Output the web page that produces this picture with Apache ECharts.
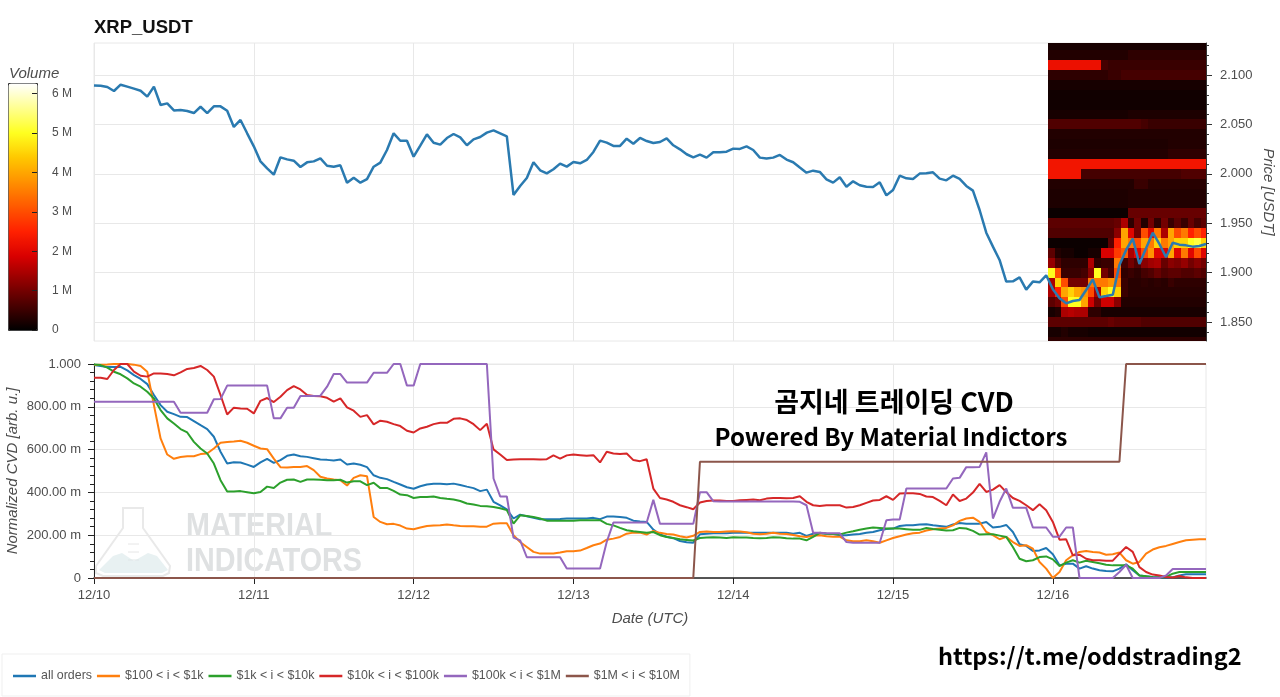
<!DOCTYPE html>
<html style="height: 100%">
<head>
<meta charset="utf-8">
<script src="https://cdn.jsdelivr.net/npm/echarts@6/dist/echarts.min.js"></script>
</head>
<body style="height: 100%; margin: 0; background: #fff">
<div id="container" style="width: 1280px; height: 697px"></div>
<script>
// hourly samples, one row per day, hour 0 = 12/10 00:00 UTC
var dayLabels = ['12/10', '12/11', '12/12', '12/13', '12/14', '12/15', '12/16'];
var dayTicks = [0, 24, 48, 72, 96, 120, 144];

var price = [
  2.0895,2.0892,2.0879,2.0838,2.0902,2.0882,2.0862,2.0841,2.0781,2.0882,2.0696,2.0713,2.0642,2.0646,2.0636,2.0615,2.0679,2.0615,2.0683,2.0683,2.0639,2.0474,2.0545,2.0410,
  2.0278,2.0126,2.0055,1.9991,2.0167,2.0146,2.0133,2.0069,2.0116,2.0126,2.0157,2.0082,2.0072,2.0086,1.9910,1.9961,1.9910,1.9947,2.0072,2.0113,2.0241,2.0410,2.0335,2.0335,
  2.0173,2.0285,2.0399,2.0315,2.0295,2.0362,2.0403,2.0369,2.0289,2.0349,2.0373,2.0417,2.0440,2.0410,2.0380,1.9786,1.9877,1.9958,2.0117,2.0036,2.0005,2.0046,2.0103,2.0073,
  2.0120,2.0106,2.0140,2.0221,2.0336,2.0316,2.0282,2.0282,2.0356,2.0305,2.0363,2.0332,2.0312,2.0322,2.0359,2.0289,2.0248,2.0198,2.0167,2.0194,2.0164,2.0218,2.0218,2.0224,
  2.0255,2.0252,2.0278,2.0241,2.0164,2.0154,2.0164,2.0191,2.0144,2.0117,2.0063,2.0012,2.0032,2.0019,1.9944,1.9911,1.9965,1.9870,1.9924,1.9884,1.9870,1.9867,1.9914,1.9782,
  1.9836,1.9981,1.9954,1.9948,2.0002,2.0005,2.0015,1.9951,1.9934,1.9981,1.9948,1.9877,1.9830,1.9634,1.9404,1.9263,1.9128,1.8909,1.8912,1.8952,1.8828,1.8909,1.8902,1.8973,
  1.8831,1.8740,1.8689,1.8713,1.8723,1.8824,1.8932,1.8750,1.8763,1.8777,1.9077,1.9229,1.9344,1.9087,1.9246,1.9404,1.9290,1.9155,1.9303,1.9283,1.9276,1.9263,1.9269,1.9290
];

// normalized CVD, in thousandths
var cvdAll = [
  995,991,986,986,987,970,948,930,906,855,808,777,766,753,752,733,714,696,660,590,535,541,540,530,
  519,540,557,538,551,571,577,569,566,560,554,552,549,554,530,535,529,518,480,468,462,449,437,424,
  417,429,437,440,440,438,441,435,427,420,406,413,356,339,321,278,296,289,282,275,275,275,276,278,
  278,278,278,281,275,287,287,285,281,268,264,262,226,203,193,186,173,167,165,204,207,209,209,209,
  211,211,212,212,211,211,212,211,211,207,211,197,207,209,207,206,200,200,203,206,211,215,223,229,
  231,243,246,246,250,251,246,243,239,250,257,254,254,254,262,236,239,248,215,158,150,126,129,140,
  111,59,67,67,44,55,44,36,33,31,44,64,36,12,8,5,3,2,3,12,17,17,17,17
];
var cvd100 = [
  995,997,998,1000,1000,1000,997,991,964,808,652,577,557,565,569,569,579,582,605,632,636,638,641,632,
  618,605,602,558,518,516,519,519,523,504,473,465,460,457,432,468,480,476,285,262,251,253,245,231,
  228,236,243,245,246,250,246,243,242,242,240,240,254,256,256,200,168,145,122,114,114,115,119,125,
  125,128,140,153,161,179,184,192,207,212,212,203,220,211,206,203,195,189,197,215,217,215,215,217,
  218,217,214,207,204,207,211,207,206,201,195,192,198,200,195,193,193,176,172,172,176,172,165,176,
  187,195,203,209,212,222,228,231,234,246,267,278,282,262,215,200,181,192,168,150,153,137,75,44,
  0,28,83,106,122,126,122,119,109,111,119,83,67,75,114,133,144,150,159,168,176,179,181,181
];
var cvd1k = [
  998,995,983,964,952,933,909,894,870,839,785,746,722,696,680,636,605,582,535,457,404,404,406,401,
  396,402,427,421,446,459,460,449,460,460,459,457,457,459,446,452,452,434,445,420,421,407,390,387,
  374,378,379,381,374,370,367,360,348,343,337,335,332,326,317,254,293,290,285,278,268,268,268,268,
  268,270,270,270,270,253,246,234,223,218,215,211,215,200,192,187,181,178,175,187,189,190,189,187,
  190,189,189,187,186,187,190,189,186,184,184,176,192,211,207,206,204,212,218,225,231,236,234,231,
  231,231,228,225,225,234,229,226,222,223,234,231,220,203,204,204,198,192,145,90,78,83,98,101,
  87,56,72,83,72,81,75,69,62,59,59,59,44,12,8,3,2,5,20,28,28,28,28,28
];
var cvd10k = [
  936,936,930,972,1000,1000,964,945,941,956,956,953,947,961,977,981,991,972,941,855,764,796,792,791,
  769,828,841,822,847,878,897,881,855,850,849,842,824,839,797,782,753,761,718,735,730,719,710,688,
  680,699,707,719,725,725,744,746,738,719,691,721,601,577,551,554,555,555,555,554,555,573,558,573,
  577,574,571,574,540,590,582,579,582,551,546,555,418,374,367,356,340,331,321,353,360,362,362,360,
  360,363,365,367,363,371,374,374,373,374,382,356,340,337,340,340,340,329,332,340,351,362,365,382,
  365,395,396,396,393,381,378,360,340,390,360,371,399,440,402,413,434,402,374,360,340,317,345,317,
  262,179,181,106,109,90,83,83,81,81,114,145,122,51,28,16,12,5,2,9,3,0,0,0
];
var cvd100k = [
  824,824,824,824,824,824,824,824,824,824,824,824,824,772,772,772,772,772,835,836,899,899,899,899,
  899,899,899,746,746,796,796,850,850,850,852,894,953,953,913,913,913,913,959,959,959,1000,1000,899,
  899,1000,1000,1000,1000,1000,1000,1000,1000,1000,1000,1000,465,381,381,189,176,97,97,97,97,97,97,44,
  44,44,44,44,44,168,259,259,259,259,259,259,365,253,253,253,253,253,253,401,401,359,357,357,
  357,357,357,357,357,357,357,357,357,357,356,340,211,212,209,209,209,168,165,165,165,165,165,270,
  273,273,418,418,418,418,418,418,418,465,468,518,518,519,587,278,356,418,328,328,328,236,236,236,
  193,193,236,236,0,0,0,0,0,0,28,62,0,0,0,0,0,12,42,42,42,42,42,42
];
var cvd1m = [
  0,0,0,0,0,0,0,0,0,0,0,0,0,0,0,0,0,0,0,0,0,0,0,0,
  0,0,0,0,0,0,0,0,0,0,0,0,0,0,0,0,0,0,0,0,0,0,0,0,
  0,0,0,0,0,0,0,0,0,0,0,0,0,0,0,0,0,0,0,0,0,0,0,0,
  0,0,0,0,0,0,0,0,0,0,0,0,0,0,0,0,0,0,0,543,543,543,543,543,
  543,543,543,543,543,543,543,543,543,543,543,543,543,543,543,543,543,543,543,543,543,543,543,543,
  543,543,543,543,543,543,543,543,543,543,543,543,543,543,543,543,543,543,543,543,543,543,543,543,
  543,543,543,543,543,543,543,543,543,543,543,1000,1000,1000,1000,1000,1000,1000,1000,1000,1000,1000,1000,1000
];
var seriesNames = ['all orders', '$100 < i < $1k', '$1k < i < $10k', '$10k < i < $100k', '$100k < i < $1M', '$1M < i < $10M'];
var seriesColors = ['#1f77b4', '#ff7f0e', '#2ca02c', '#d62728', '#9467bd', '#8c564b'];

// order book volume in millions, rows by price level, columns by hour from hour 144
var heatHours = [144,145,146,147,148,149,150,151,152,153,154,155,156,157,158,159,160,161,162,163,164,165,166,167];
var heatPrices = [2.13,2.12,2.11,2.10,2.09,2.08,2.07,2.06,2.05,2.04,2.03,2.02,2.01,2.00,1.99,1.98,1.97,1.96,1.95,1.94,1.93,1.92,1.91,1.90,1.89,1.88,1.87,1.86,1.85,1.84,1.83];
var heatRows = [
  [.2,.2,.2,.2,.2,.2,.2,.2,.2,.2,.2,.2,.2,.2,.2,.2,.2,.2,.2,.2,.2,.2,.2,.2],
  [.3,.3,.3,.3,.3,.3,.3,.3,.3,.3,.3,.3,.4,.4,.4,.4,.4,.4,.4,.4,.4,.4,.4,.4],
  [2.2,2.2,2.2,2.2,2.2,2.2,2.2,2.2,.6,.5,.5,.5,.5,.5,.5,.5,.5,.5,.5,.5,.5,.5,.5,.5],
  [.4,.4,.4,.4,.4,.4,.4,.4,.4,.5,.5,.6,.6,.6,.6,.6,.6,.6,.6,.6,.6,.6,.6,.6],
  [.2,.2,.2,.2,.2,.2,.2,.2,.2,.2,.2,.2,.2,.2,.2,.2,.2,.2,.2,.2,.2,.2,.2,.2],
  [.15,.15,.15,.15,.15,.15,.15,.15,.15,.15,.15,.15,.15,.15,.15,.15,.15,.15,.15,.15,.15,.15,.15,.15],
  [.15,.15,.15,.15,.15,.15,.15,.15,.15,.15,.15,.15,.15,.15,.15,.15,.15,.15,.15,.15,.15,.15,.15,.15],
  [.2,.2,.2,.2,.2,.2,.2,.2,.2,.2,.2,.2,.25,.25,.25,.25,.25,.25,.25,.25,.25,.25,.25,.25],
  [.7,.7,.7,.7,.7,.7,.7,.7,.7,.7,.7,.7,.7,.7,.6,.5,.5,.5,.5,.5,.5,.5,.5,.5],
  [.3,.3,.3,.3,.3,.3,.3,.3,.3,.3,.3,.3,.3,.3,.3,.3,.3,.3,.3,.3,.3,.3,.3,.3],
  [.25,.25,.25,.25,.25,.25,.25,.25,.25,.25,.25,.25,.25,.25,.25,.25,.25,.25,.3,.3,.3,.3,.3,.3],
  [.3,.3,.3,.3,.3,.3,.3,.3,.3,.3,.3,.3,.3,.3,.3,.3,.3,.3,.4,.4,.4,.4,.4,.4],
  [2.3,2.3,2.3,2.3,2.3,2.3,2.3,2.3,2.3,2.3,2.3,2.3,2.3,2.3,2.3,2.3,2.3,2.3,2.3,2.3,2.3,2.3,2.3,2.3],
  [2.3,2.3,2.3,2.3,2.3,.6,.6,.6,.6,.6,.6,.6,.6,.6,.6,.6,.6,.6,.6,.6,.7,.7,.7,.7],
  [.3,.3,.3,.3,.3,.3,.3,.3,.3,.3,.3,.3,.3,.5,.5,.35,.35,.35,.35,.35,.35,.35,.35,.35],
  [.25,.25,.25,.25,.25,.25,.25,.25,.25,.25,.25,.25,.3,.3,.3,.3,.3,.3,.3,.3,.3,.3,.3,.3],
  [.25,.25,.25,.25,.25,.25,.25,.25,.25,.25,.25,.25,.3,.3,.3,.3,.3,.3,.3,.3,.3,.3,.3,.3],
  [.1,.1,.1,.1,.1,.1,.1,.1,.1,.1,.1,.1,.9,.9,.9,.9,.9,.9,.9,.9,.9,.9,.9,.9],
  [.8,.8,.8,.8,.8,.8,.8,.8,.8,.8,.9,1.5,.4,1,.3,1,.4,1,.5,.8,.5,.9,.6,.8],
  [.7,.7,.7,.7,.7,.7,.7,.7,.7,.7,1.2,4,2,1,3,2,3.5,1.5,4,3,3.5,2.5,3,2.5],
  [.1,.1,.1,.1,.1,.1,.1,.1,.1,.8,2.5,4,3.5,3,4,3.5,4.5,3.5,4,4.5,4.5,5,5.2,4.5],
  [.8,.3,.2,.2,.1,.1,.2,.2,1.9,1.9,2.8,3.2,1.5,2,3,3.8,2,2,4,2,3.5,2,3,2],
  [1.3,.7,.4,.4,.4,.4,1.5,.4,.5,.5,3.5,.6,1,.7,1.2,1.4,1.5,.9,1.2,1.1,1.3,1,1.2,1],
  [5,3,.5,.5,.5,.6,1.2,5,1,.6,3,.4,.5,.4,.6,.7,.9,.7,.8,.8,.7,.7,.8,.7],
  [1.5,4.5,3,1,1,1,3.5,3.5,3.5,3.8,3.5,.5,.35,.35,.4,.35,.4,.35,.5,.4,.4,.4,.4,.4],
  [1.5,2.5,4,4.5,4,3.8,3,1.5,4.5,5,4.5,.5,.35,.35,.35,.35,.35,.35,.35,.35,.35,.35,.35,.35],
  [.8,1,3,5,5,4,1.8,1,1.8,1.8,1.2,.3,.3,.3,.3,.3,.3,.3,.3,.3,.3,.3,.3,.3],
  [.2,.3,1.5,1.6,1.5,1.5,.4,.4,.2,.2,.2,.2,.2,.2,.2,.2,.2,.2,.2,.2,.2,.2,.2,.2],
  [.8,.8,.8,.8,.8,.8,.8,.8,.8,.9,.8,.8,.8,.8,.7,.7,.7,.7,.7,.7,.7,.7,.7,.7],
  [.2,.2,.3,.2,.2,.2,.15,.15,.15,.15,.15,.15,.15,.15,.15,.15,.15,.15,.15,.15,.15,.15,.15,.15],
  [.4,.4,.4,.4,.4,.4,.4,.4,.4,.4,.4,.4,.4,.4,.4,.4,.4,.4,.4,.4,.4,.4,.4,.4]
];

var priceTicks = [1.85, 1.90, 1.95, 2.00, 2.05, 2.10];
var priceMinorTicks = [1.84,1.86,1.87,1.88,1.89,1.91,1.92,1.93,1.94,1.96,1.97,1.98,1.99,2.01,2.02,2.03,2.04,2.06,2.07,2.08,2.09,2.11,2.12,2.13];
var volumeColors = ['#000000','#480000','#900000','#d80000','#ff2000','#ff5800','#ff9000','#ffc800','#ffff20','#ffff90','#ffffff'];

var FONT = '"Liberation Sans", Arial, sans-serif';
var KR_FONT = '"Noto Sans CJK KR"';
var GRID_COLOR = '#e8e8e8';
var LABEL_COLOR = '#4d4d4d';

var heatData = [];
heatRows.forEach(function (row, r) {
  row.forEach(function (v, c) {
    heatData.push([heatHours[c], heatPrices[r], v]);
  });
});

function renderHeatCell(params, api) {
  var a = api.coord([api.value(0) - 0.75, api.value(1) + 0.005]);
  var b = api.coord([api.value(0) + 0.25, api.value(1) - 0.005]);
  // snap to whole pixels, otherwise seams show between cells
  var x0 = Math.round(a[0]), y0 = Math.round(a[1]);
  return {
    type: 'rect',
    shape: { x: x0, y: y0, width: Math.round(b[0]) - x0, height: Math.round(b[1]) - y0 },
    style: { fill: api.visual('color') }
  };
}

function hourSeries(name, values, color, axis) {
  return {
    name: name,
    type: 'line',
    xAxisIndex: axis.x,
    yAxisIndex: axis.y,
    data: values.map(function (v, i) { return [i, v]; }),
    showSymbol: false,
    smooth: false,
    z: 3,
    lineStyle: { color: color, width: 2 },
    itemStyle: { color: color }
  };
}

var cvdValues = [cvdAll, cvd100, cvd1k, cvd10k, cvd100k, cvd1m];
var series = [
  {
    name: 'volume',
    type: 'custom',
    xAxisIndex: 0,
    yAxisIndex: 0,
    renderItem: renderHeatCell,
    encode: { x: 0, y: 1 },
    data: heatData,
    clip: true,
    z: 1
  },
  hourSeries('price', price, '#2a7ab0', { x: 0, y: 0 })
];
series[1].lineStyle.width = 2.5;
cvdValues.forEach(function (vals, i) {
  series.push(hourSeries(seriesNames[i], vals, seriesColors[i], { x: 1, y: 2 }));
});

var option = {
  animation: false,
  backgroundColor: '#fff',
  textStyle: { fontFamily: FONT },
  title: [
    { text: 'XRP_USDT', left: 94, top: 18, padding: 0, textStyle: { fontFamily: FONT, fontSize: 18.5, fontWeight: 'bold', color: '#111' } },
    { text: '곰지네 트레이딩 CVD', left: 894, top: 388, padding: 0, textAlign: 'center', textStyle: { fontFamily: KR_FONT, fontSize: 27, fontWeight: 'bold', color: '#000' } },
    { text: 'Powered By Material Indictors', left: 891, top: 425, padding: 0, textAlign: 'center', textStyle: { fontFamily: KR_FONT, fontSize: 24, fontWeight: 'bold', color: '#000' } },
    { text: 'https://t.me/oddstrading2', left: 938, top: 644, padding: 0, textStyle: { fontFamily: KR_FONT, fontSize: 23.5, fontWeight: 'bold', color: '#000' } }
  ],
  legend: {
    data: seriesNames,
    left: 2,
    top: 654,
    padding: [16, 10, 14, 11],
    icon: 'rect',
    itemWidth: 23,
    itemHeight: 2.5,
    itemGap: 5,
    borderColor: '#efefef',
    borderWidth: 1,
    textStyle: { fontFamily: FONT, fontSize: 12.4, color: '#555' }
  },
  grid: [
    { left: 94, top: 43, width: 1112, height: 298, outerBoundsMode: 'none', show: true, borderColor: GRID_COLOR, borderWidth: 1, backgroundColor: 'transparent' },
    { left: 94, top: 364, width: 1112, height: 214, outerBoundsMode: 'none', show: true, borderColor: GRID_COLOR, borderWidth: 1, backgroundColor: 'transparent' },
    { left: 8, top: 83, width: 29, height: 247, outerBoundsMode: 'none' }
  ],
  xAxis: [
    {
      gridIndex: 0, type: 'value', min: 0, max: 167,
      axisLine: { show: false },
      axisTick: { show: false, customValues: dayTicks },
      axisLabel: { show: false },
      splitLine: { show: true, lineStyle: { color: GRID_COLOR } }
    },
    {
      gridIndex: 1, type: 'value', min: 0, max: 167,
      name: 'Date (UTC)', nameLocation: 'middle', nameGap: 33, nameMoveOverlap: false,
      nameTextStyle: { fontSize: 15, fontStyle: 'italic', color: LABEL_COLOR },
      axisLine: { show: true, onZero: false, lineStyle: { color: '#222', width: 1.5 } },
      axisTick: { show: true, length: 6, customValues: dayTicks, lineStyle: { color: '#222' } },
      axisLabel: {
        customValues: dayTicks, margin: 11, fontSize: 13, color: LABEL_COLOR,
        formatter: function (v) { return dayLabels[v / 24] || ''; }
      },
      splitLine: { show: true, lineStyle: { color: GRID_COLOR } }
    },
    { gridIndex: 2, type: 'value', show: false, min: 0, max: 1 }
  ],
  yAxis: [
    {
      gridIndex: 0, type: 'value', position: 'right', min: 1.8308, max: 2.1324,
      name: 'Price [USDT]', nameLocation: 'middle', nameGap: 55, nameRotate: -90, nameMoveOverlap: false,
      nameTextStyle: { fontSize: 15, fontStyle: 'italic', color: LABEL_COLOR },
      axisLine: { show: true, onZero: false, lineStyle: { color: '#333' } },
      axisTick: { show: true, length: 6, customValues: priceTicks, lineStyle: { color: '#333' } },
      axisLabel: {
        customValues: priceTicks, margin: 14, fontSize: 13, color: LABEL_COLOR,
        formatter: function (v) { return v.toFixed(3); }
      },
      splitLine: { show: true, lineStyle: { color: GRID_COLOR } }
    },
    {
      gridIndex: 0, type: 'value', position: 'right', min: 1.8308, max: 2.1324,
      axisLine: { show: false, onZero: false },
      axisTick: { show: true, length: 3, customValues: priceMinorTicks, lineStyle: { color: '#333' } },
      axisLabel: { show: false },
      splitLine: { show: false }
    },
    {
      gridIndex: 1, type: 'value', position: 'left', min: 0, max: 1000, interval: 200,
      name: 'Normalized CVD [arb. u.]', nameLocation: 'middle', nameGap: 74, nameRotate: 90, nameMoveOverlap: false,
      nameTextStyle: { fontSize: 15, fontStyle: 'italic', color: LABEL_COLOR },
      axisLine: { show: true, onZero: false, lineStyle: { color: '#222' } },
      axisTick: { show: true, length: 6, lineStyle: { color: '#222' } },
      minorTick: { show: true, splitNumber: 5, length: 4, lineStyle: { color: '#222' } },
      axisLabel: {
        margin: 13, fontSize: 13, color: LABEL_COLOR,
        formatter: function (v) {
          if (v === 1000) return '1.000';
          if (v === 0) return '0';
          return v.toFixed(2) + ' m';
        }
      },
      splitLine: { show: true, lineStyle: { color: GRID_COLOR } }
    },
    {
      gridIndex: 2, type: 'value', position: 'right', min: 0, max: 6.27, interval: 1, z: 6,
      axisLine: { show: false, onZero: false },
      axisTick: { show: true, inside: true, length: 5, lineStyle: { color: '#222' } },
      axisLabel: {
        margin: 15, fontSize: 12, color: LABEL_COLOR,
        formatter: function (v) { return v === 0 ? '0' : v + ' M'; }
      },
      splitLine: { show: false }
    }
  ],
  visualMap: {
    type: 'continuous',
    seriesIndex: 0,
    dimension: 2,
    min: 0,
    max: 6.27,
    left: 8,
    top: 83,
    itemWidth: 29,
    itemHeight: 247,
    padding: 0,
    borderColor: '#333',
    borderWidth: 1,
    calculable: false,
    showLabel: false,
    text: null,
    z: 1,
    inRange: { color: volumeColors }
  },
  graphic: [
    { type: 'text', z: -1, style: { x: 9, y: 66, text: 'Volume', font: 'italic 15px "Liberation Sans"', fill: LABEL_COLOR } },
    // watermark
    { type: 'polygon', z: -1, shape: { points: [[99,570],[113,556],[122,553],[134,561],[148,553],[157,556],[168,570],[162,573],[105,573]] }, style: { fill: '#e8f1f2' } },
    { type: 'polyline', z: -1, shape: { points: [[127,508],[143,508],[143,528],[170,566],[169,573],[163,576],[103,576],[96,573],[96,566],[123,528],[123,508],[127,508]] }, style: { stroke: '#e9e9e9', lineWidth: 2, fill: 'none' } },
    { type: 'line', z: -1, shape: { x1: 128, y1: 544, x2: 139, y2: 544 }, style: { stroke: '#e6e6e6', lineWidth: 1 } },
    { type: 'line', z: -1, shape: { x1: 128, y1: 552, x2: 139, y2: 552 }, style: { stroke: '#e6e6e6', lineWidth: 1 } },
    { type: 'line', z: -1, shape: { x1: 128, y1: 560, x2: 139, y2: 560 }, style: { stroke: '#dfe6e7', lineWidth: 1 } },
    { type: 'text', z: -1, x: 186, y: 510, scaleX: 0.87, style: { text: 'MATERIAL', font: 'bold 33px "Liberation Sans"', fill: '#dfe1e2' } },
    { type: 'text', z: -1, x: 186, y: 545, scaleX: 0.87, style: { text: 'INDICATORS', font: 'bold 33px "Liberation Sans"', fill: '#dfe1e2' } }
  ],
  series: series
};

var myChart = echarts.init(document.getElementById('container'));
myChart.setOption(option);
</script>
</body>
</html>
